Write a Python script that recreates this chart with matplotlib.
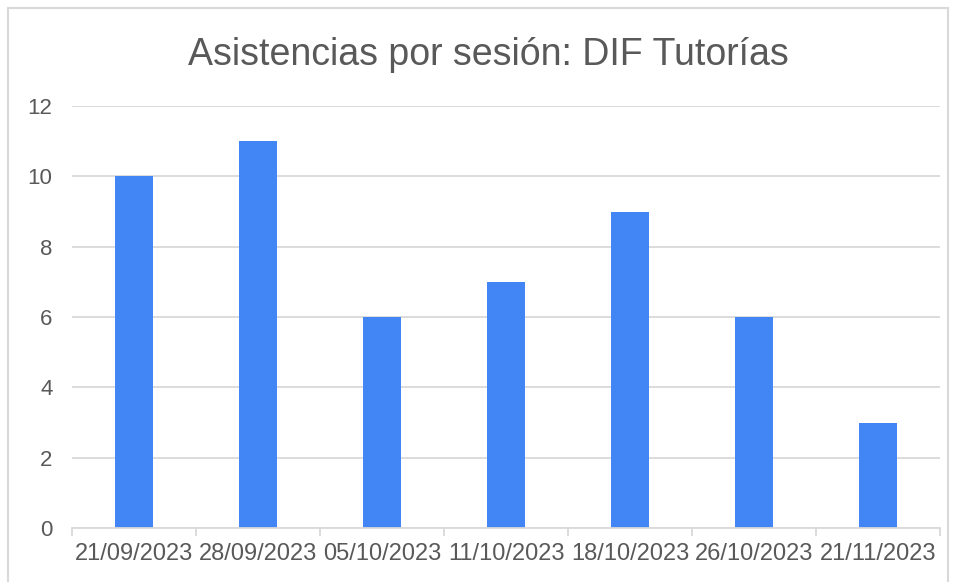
import matplotlib.pyplot as plt
from matplotlib.patches import Rectangle
import numpy as np

plt.rcParams['font.family'] = ['Liberation Sans', 'DejaVu Sans']

# datos
sesiones = ['21/09/2023', '28/09/2023', '05/10/2023', '11/10/2023',
            '18/10/2023', '26/10/2023', '21/11/2023']
asistencias = [10, 11, 6, 7, 9, 6, 3]
yticks = [0, 2, 4, 6, 8, 10, 12]

gris_txt = '#595959'
gris_lin = '#d9d9d9'

fig = plt.figure(figsize=(9.56, 5.82), dpi=100)
ax = fig.add_axes([72/956, 1-528/582, (940-72)/956, (528-106)/582])

x = np.arange(len(sesiones))
ax.bar(x, asistencias, width=0.31, color='#4285F4', zorder=3)

ax.set_xlim(-0.5, len(sesiones) - 0.5)
ax.set_ylim(0, 12)
ax.set_yticks(yticks)
ax.set_yticklabels([str(v) for v in yticks], fontsize=16, color=gris_txt)
ax.yaxis.grid(True, color=gris_lin, linewidth=1.3, zorder=0)
ax.tick_params(axis='y', length=0, pad=14)

# etiquetas centradas, marcas en los bordes de categoria
ax.set_xticks(x)
ax.set_xticklabels(sesiones, fontsize=17, color=gris_txt)
ax.tick_params(axis='x', which='major', length=0, pad=11)
ax.set_xticks(np.arange(len(sesiones) + 1) - 0.5, minor=True)
ax.tick_params(axis='x', which='minor', length=6, width=1.3, color=gris_lin)

for s in ['top', 'right', 'left']:
    ax.spines[s].set_visible(False)
ax.spines['bottom'].set_color(gris_lin)
ax.spines['bottom'].set_linewidth(1.3)
ax.spines['bottom'].set_zorder(4)

fig.text(488/956, 1-55/582, 'Asistencias por sesión: DIF Tutorías', ha='center',
         va='center', fontsize=27, color=gris_txt)

# borde del grafico
fig.patches.append(Rectangle((8/956, -0.05), 940/956, 1-8/582+0.05,
                             transform=fig.transFigure, fill=False,
                             edgecolor=gris_lin, linewidth=1.5))

fig.savefig('out.png', dpi=100, facecolor='white')
